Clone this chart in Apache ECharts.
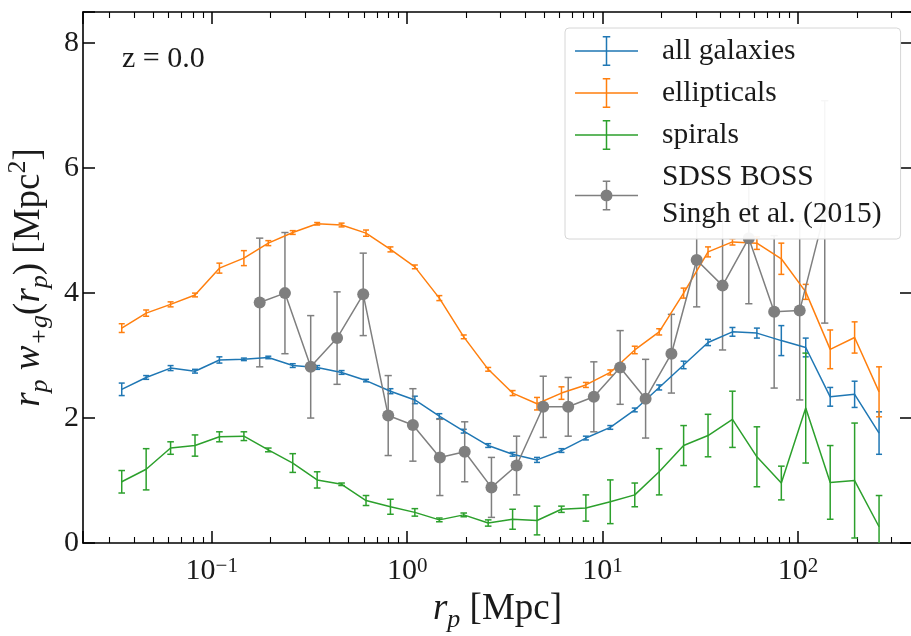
<!DOCTYPE html>
<html><head><meta charset="utf-8">
<script src="https://cdn.jsdelivr.net/npm/echarts@6.0.0/dist/echarts.min.js"></script>
<style>html,body{margin:0;padding:0;background:#fff}#c{width:911px;height:636px}</style>
</head><body><div id="c"></div>
<script>
// projected separation bins (Mpc)
const rpModel = [0.03464,0.04619,0.06160,0.08214,0.1095,0.1461,0.1948,0.2598,0.3464,0.4619,0.6160,0.8214,1.095,1.461,1.948,2.598,3.464,4.619,6.160,8.214,10.95,14.61,19.48,25.98,34.64,46.19,61.60,82.14,109.5,146.1,194.8,259.8];
const allGal = [2.46,2.65,2.80,2.75,2.93,2.94,2.97,2.84,2.81,2.73,2.60,2.43,2.29,2.03,1.79,1.56,1.42,1.33,1.48,1.68,1.85,2.13,2.49,2.85,3.21,3.38,3.36,3.24,3.13,2.34,2.38,1.76];
const allGalErr = [0.10,0.03,0.04,0.03,0.05,0.02,0.02,0.03,0.03,0.03,0.02,0.04,0.06,0.04,0.03,0.03,0.03,0.04,0.03,0.03,0.03,0.03,0.04,0.06,0.05,0.07,0.08,0.24,0.15,0.15,0.21,0.34];
const ellipticals = [3.44,3.68,3.82,3.97,4.40,4.56,4.80,4.97,5.11,5.09,4.96,4.70,4.42,3.92,3.30,2.78,2.40,2.23,2.40,2.53,2.73,3.09,3.38,4.00,4.66,4.82,4.80,4.55,4.02,3.10,3.29,2.42];
const ellipticalsErr = [0.07,0.05,0.04,0.03,0.08,0.12,0.04,0.03,0.02,0.03,0.05,0.04,0.03,0.04,0.03,0.03,0.04,0.10,0.10,0.04,0.04,0.06,0.05,0.08,0.08,0.05,0.10,0.25,0.12,0.31,0.25,0.40];
const spirals = [0.98,1.18,1.52,1.56,1.70,1.71,1.49,1.28,1.01,0.94,0.68,0.58,0.49,0.37,0.45,0.32,0.38,0.36,0.54,0.56,0.66,0.77,1.14,1.56,1.72,1.98,1.38,0.96,2.16,0.97,1.00,0.26];
const spiralsErr = [0.18,0.33,0.10,0.17,0.08,0.07,0.03,0.15,0.13,0.02,0.08,0.12,0.06,0.03,0.03,0.05,0.16,0.23,0.05,0.21,0.35,0.19,0.37,0.32,0.34,0.45,0.48,0.27,0.88,0.59,0.92,0.50];
const rpSDSS = [0.176,0.237,0.321,0.438,0.596,0.800,1.07,1.47,1.97,2.70,3.63,4.97,6.67,9.02,12.3,16.6,22.5,30.3,41.1,56.0,75.5,102,137];
const sdss = [3.85,4.00,2.82,3.28,3.98,2.04,1.89,1.37,1.46,0.89,1.24,2.18,2.18,2.34,2.81,2.31,3.03,4.53,4.12,4.88,3.70,3.72,5.30];
const sdssErr = [1.03,0.97,0.82,0.74,0.66,0.64,0.58,0.61,0.48,0.48,0.47,0.49,0.47,0.56,0.59,0.63,0.63,0.75,1.03,1.05,1.22,1.43,1.78];
const yTicks = [0,2,4,6,8];

const FONT = 'Liberation Serif';
const INK = '#1a1a1a';
const C_BLUE = '#1f77b4', C_ORANGE = '#ff7f0e', C_GREEN = '#2ca02c', C_GRAY = '#7f7f7f';

function pairs(xs, ys){ return xs.map((x,i)=>[x, ys[i]]); }
function bars(xs, ys, es){ return xs.map((x,i)=>[x, ys[i]-es[i], ys[i]+es[i]]); }
function errRender(color, cap){
  return function(params, api){
    const x = api.value(0), lo = api.value(1), hi = api.value(2);
    const a = api.coord([x, lo]), b = api.coord([x, hi]);
    const st = {stroke: color, lineWidth: 1.5};
    return {type:'group', children:[
      {type:'line', shape:{x1:a[0], y1:a[1], x2:b[0], y2:b[1]}, style: st},
      {type:'line', shape:{x1:a[0]-cap, y1:a[1], x2:a[0]+cap, y2:a[1]}, style: st},
      {type:'line', shape:{x1:b[0]-cap, y1:b[1], x2:b[0]+cap, y2:b[1]}, style: st}
    ]};
  };
}
function lineSeries(name, xs, ys, color){
  return {type:'line', name, data: pairs(xs, ys), symbol:'none', lineStyle:{color, width:1.5}, itemStyle:{color}, silent:true};
}
function errSeries(name, xs, ys, es, color, cap){
  return {type:'custom', name, data: bars(xs, ys, es), renderItem: errRender(color, cap), encode:{x:0, y:[1,2]}, clip:true, silent:true, itemStyle:{color}};
}

const ICON_EB = 'path://M0,14.25H63V15.75H0Z M30.75,0H32.25V30H30.75Z M27.75,0H35.25V1.5H27.75Z M27.75,28.5H35.25V30H27.75Z';
const ICON_EBO = ICON_EB + ' M37.5,15A6,6,0,1,1,25.5,15A6,6,0,1,1,37.5,15Z';

function pow10Label(v){
  const l = Math.log10(v);
  if (Math.abs(l - Math.round(l)) > 1e-6) return '';
  const n = Math.round(l);
  return '{b|10}{s|' + (n < 0 ? '\u2212' + (-n) : n) + '}';
}

const xCommon = {
  type:'log', logBase:10, min:0.02195, max:383,
  axisLine:{show:true, onZero:false, lineStyle:{color:'#000', width:1.6}},
  axisTick:{show:true, inside:true, length:12, lineStyle:{color:'#000', width:1.5}},
  minorTick:{show:true, splitNumber:9, length:6, lineStyle:{color:'#000', width:1.1}},
  splitLine:{show:false}, minorSplitLine:{show:false}
};
const yCommon = {
  type:'value', min:0, max:8.5, interval:2,
  axisLine:{show:true, onZero:false, lineStyle:{color:'#000', width:1.6}},
  axisTick:{show:true, inside:true, length:12, lineStyle:{color:'#000', width:1.5}},
  splitLine:{show:false}
};
const nameRich = {
  i:{fontFamily:FONT, fontStyle:'italic', fontSize:37, color:INK, verticalAlign:'middle'},
  s:{fontFamily:FONT, fontStyle:'italic', fontSize:26, color:INK, lineHeight:48, verticalAlign:'bottom'},
  u:{fontFamily:FONT, fontSize:26, color:INK, verticalAlign:'top'},
  n:{fontFamily:FONT, fontSize:37, color:INK, verticalAlign:'middle'}
};

const option = {
  animation:false,
  backgroundColor:'#fff',
  grid:{left:83, width:829, top:12, bottom:93, containLabel:false, outerBoundsMode:'none'},
  xAxis:[
    Object.assign({}, xCommon, {
      position:'bottom',
      axisLabel:{show:true, margin:13, formatter: pow10Label,
        rich:{ b:{fontFamily:FONT, fontSize:30, color:INK, lineHeight:30, verticalAlign:'top'},
               s:{fontFamily:FONT, fontSize:21, color:INK, lineHeight:16, verticalAlign:'top'} }},
      name:'{i|r}{s|p}{n| [Mpc]}', nameLocation:'middle', nameGap:41,
      nameTextStyle:{fontFamily:FONT, fontSize:37, color:INK, rich: nameRich}
    }),
    Object.assign({}, xCommon, {position:'top', axisLabel:{show:false}})
  ],
  yAxis:[
    Object.assign({}, yCommon, {
      position:'left',
      axisLabel:{show:true, margin:4, fontFamily:FONT, fontSize:30, color:INK,
        formatter: v => (yTicks.indexOf(v) >= 0 ? String(v) : '')},
      name:'{i|r}{s|p}{n| }{i|w}{s|+g}{n|(}{i|r}{s|p}{n|) [Mpc}{u|2}{n|]}',
      nameLocation:'middle', nameRotate:90, nameGap:18,
      nameTextStyle:{fontFamily:FONT, fontSize:37, color:INK, rich: nameRich}
    }),
    Object.assign({}, yCommon, {position:'right', axisLabel:{show:false}})
  ],
  legend:{
    orient:'vertical', left:565, top:28,
    padding:[4.5, 19, 6.5, 10], itemGap:5,
    itemWidth:63, itemHeight:30, symbolKeepAspect:true,
    backgroundColor:'rgba(255,255,255,0.93)', borderColor:'#d6d6d6', borderWidth:1, borderRadius:4,
    selectedMode:false,
    textStyle:{fontFamily:FONT, fontSize:29.5, color:INK, lineHeight:37, padding:[0,0,0,19]},
    data:[
      {name:'all galaxies', icon:ICON_EB, itemStyle:{color:C_BLUE, borderWidth:0}},
      {name:'ellipticals', icon:ICON_EB, itemStyle:{color:C_ORANGE, borderWidth:0}},
      {name:'spirals', icon:ICON_EB, itemStyle:{color:C_GREEN, borderWidth:0}},
      {name:'SDSS BOSS\nSingh et al. (2015)', icon:ICON_EBO, itemStyle:{color:C_GRAY, borderWidth:0}}
    ]
  },
  graphic:[{type:'text', left:122, top:44, style:{text:'z = 0.0', font:'30px "Liberation Serif"', fill:INK}}],
  series:[
    lineSeries('all galaxies', rpModel, allGal, C_BLUE),
    errSeries('all galaxies', rpModel, allGal, allGalErr, C_BLUE, 3),
    lineSeries('ellipticals', rpModel, ellipticals, C_ORANGE),
    errSeries('ellipticals', rpModel, ellipticals, ellipticalsErr, C_ORANGE, 3),
    lineSeries('spirals', rpModel, spirals, C_GREEN),
    errSeries('spirals', rpModel, spirals, spiralsErr, C_GREEN, 3.3),
    {type:'line', name:'SDSS BOSS\nSingh et al. (2015)', data: pairs(rpSDSS, sdss), symbol:'circle', symbolSize:12,
     lineStyle:{color:C_GRAY, width:1.5}, itemStyle:{color:C_GRAY}, silent:true},
    errSeries('SDSS BOSS\nSingh et al. (2015)', rpSDSS, sdss, sdssErr, C_GRAY, 3.6)
  ]
};
const chart = echarts.init(document.getElementById('c'), null, {renderer:'canvas'});
chart.setOption(option);
</script></body></html>
